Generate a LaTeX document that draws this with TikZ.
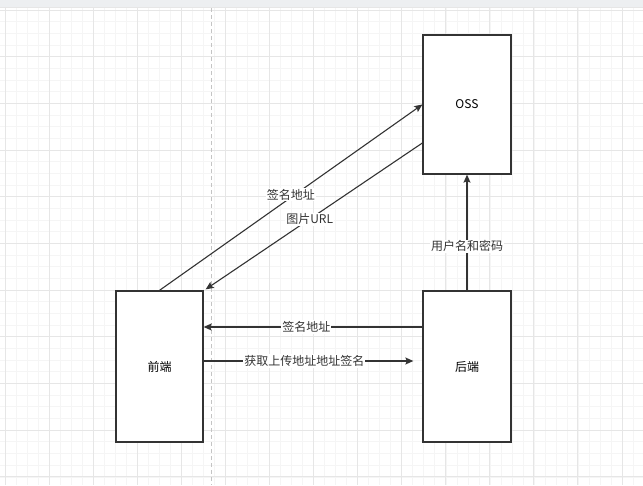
\documentclass[tikz,border=0pt]{standalone}
\usepackage{fontspec}
\setmainfont{Noto Sans CJK SC}
\usetikzlibrary{arrows.meta,calc}
\definecolor{ink}{HTML}{333333}
\definecolor{gridmaj}{HTML}{E6E6E6}
\definecolor{gridmin}{HTML}{F5F5F5}
\definecolor{topband}{HTML}{EDEFF1}
\definecolor{dashc}{HTML}{C4C4C4}
\tikzset{
  box/.style={draw=ink, line width=1.3pt, fill=white, font=\fontsize{12pt}{14pt}\selectfont, inner sep=0pt},
  arr/.style={draw=ink, line width=1.1pt, -{Stealth[length=8pt,width=7pt,inset=1.5pt]}},
  lbl/.style={fill=white, inner sep=1pt, text=ink, font=\fontsize{12pt}{14pt}\selectfont}
}
\begin{document}
\begin{tikzpicture}[x=1pt,y=-1pt]
\useasboundingbox (0,0) rectangle (643,485);
\fill[white] (0,0) rectangle (643,485);
% minor grid
\foreach \i in {0,...,60} {
  \draw[gridmin, line width=0.6pt] ({5+\i*11.02-22.04},8) -- ({5+\i*11.02-22.04},485);
}
\foreach \j in {0,...,45} {
  \draw[gridmin, line width=0.6pt] (0,{10+\j*11.67}) -- (643,{10+\j*11.67});
}
% major grid
\foreach \i in {0,...,14} {
  \draw[gridmaj, line width=0.9pt] ({5+\i*44.07},8) -- ({5+\i*44.07},485);
}
\foreach \j in {0,...,10} {
  \draw[gridmaj, line width=0.9pt] (0,{10+\j*46.67}) -- (643,{10+\j*46.67});
}
% top band
\fill[topband] (0,0) rectangle (643,7);
\draw[gridmaj, line width=0.8pt] (0,7.5) -- (643,7.5);
% dashed vertical guide
\draw[dashc, line width=1pt, dash pattern=on 4pt off 3pt] (211,8) -- (211,485);
% nodes
\node[box, minimum width=88pt, minimum height=139pt] (oss) at (467,104.5) {OSS};
\node[box, minimum width=87pt, minimum height=151pt] (fe) at (159.5,366.5) {前端};
\node[box, minimum width=88pt, minimum height=151pt] (be) at (467,366.5) {后端};
% connectors
\draw[arr] (fe.north) -- (oss.west) node[lbl, midway, yshift=3pt] {签名地址};
\draw[arr] ([yshift=-38.5pt]oss.west) -- ([xshift=2pt,yshift=1pt]fe.north east) node[lbl, pos=0.52] {图片URL};
\draw[arr] ([yshift=39.5pt]be.west) -- ([yshift=39.5pt]fe.east) node[lbl, pos=0.53] {签名地址};
\draw[arr] ([yshift=5.5pt]fe.east) -- ([yshift=5.5pt,xshift=-9pt]be.west) node[lbl, pos=0.48] {获取上传地址地址签名};
\draw[arr] (be.north) -- (oss.south) node[lbl, pos=0.38] {用户名和密码};
\end{tikzpicture}
\end{document}
